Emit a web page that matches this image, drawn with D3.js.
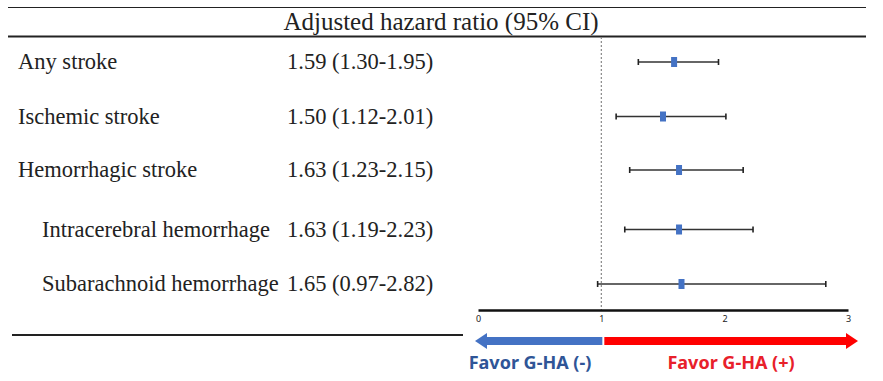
<!DOCTYPE html>
<html>
<head>
<meta charset="utf-8">
<script src="https://cdn.jsdelivr.net/npm/d3@7"></script>
<style>
  body { margin: 0; background: #fff; }
  .lbl { font-family: "Liberation Serif", "Times New Roman", serif; font-size: 22.5px; fill: #222; }
  .tick text { font-family: "Noto Sans", sans-serif; font-size: 9px; fill: #222; }
  .favor { font-family: "Noto Sans", sans-serif; font-size: 18px; font-weight: bold; }
</style>
</head>
<body>
<svg id="chart"></svg>
<script>
// data
const outcomes = ["Any stroke", "Ischemic stroke", "Hemorrhagic stroke", "Intracerebral hemorrhage", "Subarachnoid hemorrhage"];
const indent = [0, 0, 0, 1, 1];
const hr = [1.59, 1.50, 1.63, 1.63, 1.65];
const lower = [1.30, 1.12, 1.23, 1.19, 0.97];
const upper = [1.95, 2.01, 2.15, 2.23, 2.82];
const xTicks = [0, 1, 2, 3];

const width = 883, height = 381;

const svg = d3.select("#chart")
  .attr("width", width)
  .attr("height", height);

const x = d3.scaleLinear().domain([0, 3]).range([478, 848]);
const y = d3.scalePoint().domain(outcomes).range([62, 284]);
// rows are not evenly spaced in the original, small nudge
const rowY = (d, i) => y(d) + [0, -1, -3, 1, 0][i];

// table rules
svg.append("line").attr("x1", 8).attr("x2", 866).attr("y1", 7.5).attr("y2", 7.5)
  .attr("stroke", "#222").attr("stroke-width", 1.2);
svg.append("line").attr("x1", 8).attr("x2", 866).attr("y1", 36.5).attr("y2", 36.5)
  .attr("stroke", "#222").attr("stroke-width", 2);
svg.append("line").attr("x1", 12).attr("x2", 463).attr("y1", 335).attr("y2", 335)
  .attr("stroke", "#222").attr("stroke-width", 2);

svg.append("text").attr("class", "lbl")
  .attr("x", 441).attr("y", 30)
  .attr("text-anchor", "middle")
  .style("font-size", "25px")
  .text("Adjusted hazard ratio (95% CI)");

// labels and values
const rows = svg.selectAll(".row")
  .data(outcomes)
  .enter()
  .append("g")
  .attr("class", "row");

rows.append("text")
  .attr("class", "lbl")
  .attr("x", (d, i) => indent[i] ? 42 : 18)
  .attr("y", (d, i) => rowY(d, i) + 7)
  .text(d => d);

rows.append("text")
  .attr("class", "lbl")
  .attr("x", 287)
  .attr("y", (d, i) => rowY(d, i) + 7)
  .text((d, i) => `${hr[i].toFixed(2)} (${lower[i].toFixed(2)}-${upper[i].toFixed(2)})`);

// reference line at 1
svg.append("line")
  .attr("x1", x(1)).attr("x2", x(1))
  .attr("y1", 37).attr("y2", 310)
  .attr("stroke", "#888").attr("stroke-width", 1.2)
  .attr("stroke-dasharray", "2,2");

// CI bars
rows.append("line")
  .attr("x1", (d, i) => x(lower[i])).attr("x2", (d, i) => x(upper[i]))
  .attr("y1", (d, i) => rowY(d, i)).attr("y2", (d, i) => rowY(d, i))
  .attr("stroke", "#333").attr("stroke-width", 1.3);

rows.selectAll(".cap")
  .data((d, i) => [lower[i], upper[i]].map(v => ({ v, yy: rowY(d, i) })))
  .enter()
  .append("line")
  .attr("x1", c => x(c.v)).attr("x2", c => x(c.v))
  .attr("y1", c => c.yy - 3).attr("y2", c => c.yy + 3)
  .attr("stroke", "#222").attr("stroke-width", 1.6);

rows.append("rect")
  .attr("x", (d, i) => x(hr[i]) - 3)
  .attr("y", (d, i) => rowY(d, i) - 5)
  .attr("width", 6).attr("height", 10)
  .attr("fill", "#4472C4");

// axis
const axis = svg.append("g")
  .attr("transform", "translate(0,310)")
  .call(d3.axisBottom(x).tickValues(xTicks).tickSize(0).tickPadding(6).tickFormat(d3.format("d")));
axis.select(".domain").attr("stroke", "#111").attr("stroke-width", 2.5);

// favor arrows
const arrowY = 341;
const blue = d3.path();
blue.moveTo(x(1) + 1, arrowY - 4);
blue.lineTo(487, arrowY - 4);
blue.lineTo(487, arrowY - 8);
blue.lineTo(475, arrowY);
blue.lineTo(487, arrowY + 8);
blue.lineTo(487, arrowY + 4);
blue.lineTo(x(1) + 1, arrowY + 4);
blue.closePath();
svg.append("path").attr("d", blue.toString()).attr("fill", "#4472C4");

const red = d3.path();
red.moveTo(x(1) + 3, arrowY - 4);
red.lineTo(846, arrowY - 4);
red.lineTo(846, arrowY - 8);
red.lineTo(858, arrowY);
red.lineTo(846, arrowY + 8);
red.lineTo(846, arrowY + 4);
red.lineTo(x(1) + 3, arrowY + 4);
red.closePath();
svg.append("path").attr("d", red.toString()).attr("fill", "#FF0000");

svg.append("text").attr("class", "favor")
  .attr("x", 530).attr("y", 369)
  .attr("text-anchor", "middle")
  .attr("fill", "#2F5597")
  .text("Favor G-HA (-)");

svg.append("text").attr("class", "favor")
  .attr("x", 731).attr("y", 369)
  .attr("text-anchor", "middle")
  .attr("fill", "#E8202A")
  .text("Favor G-HA (+)");
</script>
</body>
</html>
